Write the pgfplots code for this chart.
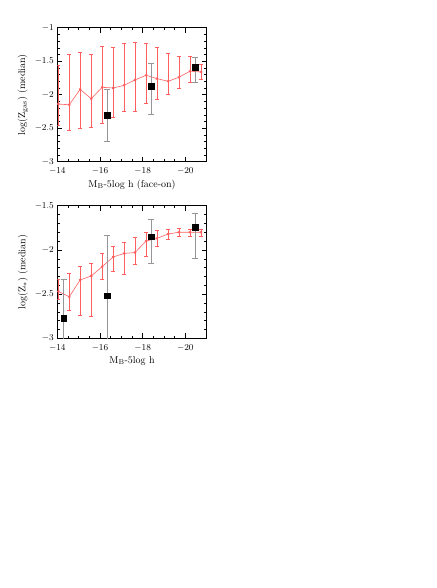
\documentclass[border=0pt]{standalone}
\usepackage{pgfplots}
\pgfplotsset{compat=1.18}
\definecolor{medred}{RGB}{255,95,95}
\definecolor{bargray}{RGB}{150,150,150}
\pgfplotsset{
  panel/.style={
    scale only axis, width=149.4pt,
    x dir=reverse, xmin=-21, xmax=-14,
    xtick={-14,-16,-18,-20}, minor x tick num=3,
    minor y tick num=4,
    tick align=inside, xtick pos=both, ytick pos=both,
    major tick length=5pt, minor tick length=2.5pt,
    every tick/.style={black, line width=0.4pt},
    axis line style={line width=0.5pt},
    tick label style={font=\fontsize{9}{10}\selectfont},
    xticklabel style={yshift=-2.5pt},
    xlabel style={yshift=1.5pt},
    label style={font=\fontsize{10}{12}\selectfont},
    yticklabel style={/pgf/number format/fixed},
  },
  medline/.style={medred, line width=0.6pt, mark=asterisk, mark size=1.3pt,
    error bars/.cd, y dir=both, y explicit, error mark options={medred, mark size=2pt, rotate=90},
    error bar style={medred, line width=0.5pt}},
  obsmark/.style={only marks, mark=square*, mark size=2.8pt, black,
    error bars/.cd, y dir=both, y explicit, error mark options={bargray, mark size=3pt, rotate=90, line width=0.8pt},
    error bar style={bargray, line width=1pt}},
}
\begin{document}
\begin{tikzpicture}
\useasboundingbox (0,0) rectangle (436pt,588pt);
% top panel: gas metallicity
\begin{axis}[panel, at={(57.3pt,426.3pt)}, anchor=south west, height=134pt,
  ymin=-3, ymax=-1, ytick={-3,-2.5,-2,-1.5,-1},
  xlabel={M$_{\rm B}$-5log h (face-on)}, ylabel={log(Z$_{\rm gas}$) (median)}]
\addplot[medline] coordinates {
(-14.05,-2.14) += (0,0.58) -= (0,0.32)
(-14.56,-2.15) += (0,0.75) -= (0,0.38)
(-15.07,-1.92) += (0,0.56) -= (0,0.58)
(-15.59,-2.06) += (0,0.66) -= (0,0.42)
(-16.10,-1.89) += (0,0.61) -= (0,0.54)
(-16.62,-1.90) += (0,0.61) -= (0,0.44)
(-17.13,-1.86) += (0,0.63) -= (0,0.38)
(-17.64,-1.78) += (0,0.57) -= (0,0.46)
(-18.16,-1.71) += (0,0.48) -= (0,0.42)
(-18.67,-1.76) += (0,0.47) -= (0,0.30)
(-19.19,-1.80) += (0,0.42) -= (0,0.20)
(-19.70,-1.74) += (0,0.32) -= (0,0.16)
(-20.21,-1.65) += (0,0.22) -= (0,0.16)
(-20.73,-1.66) += (0,0.11) -= (0,0.11)
};
\addplot[obsmark] coordinates {
(-16.35,-2.31) += (0,0.39) -= (0,0.38)
(-18.41,-1.87) += (0,0.34) -= (0,0.43)
(-20.47,-1.59) += (0,0.14) -= (0,0.22)
};
\end{axis}
% bottom panel: stellar metallicity
\begin{axis}[panel, at={(57.3pt,249.7pt)}, anchor=south west, height=132.6pt,
  ymin=-3, ymax=-1.5, ytick={-3,-2.5,-2,-1.5},
  xlabel={M$_{\rm B}$-5log h}, ylabel={log(Z$_{*}$) (median)}]
\addplot[medline] coordinates {
(-14.05,-2.47) += (0,0.14) -= (0,0.085)
(-14.56,-2.53) += (0,0.27) -= (0,0.15)
(-15.07,-2.34) += (0,0.15) -= (0,0.40)
(-15.59,-2.295) += (0,0.145) -= (0,0.46)
(-16.10,-2.19) += (0,0.15) -= (0,0.14)
(-16.62,-2.08) += (0,0.12) -= (0,0.16)
(-17.13,-2.04) += (0,0.13) -= (0,0.23)
(-17.64,-2.03) += (0,0.17) -= (0,0.13)
(-18.16,-1.90) += (0,0.10) -= (0,0.17)
(-18.67,-1.87) += (0,0.09) -= (0,0.09)
(-19.19,-1.82) += (0,0.05) -= (0,0.06)
(-19.70,-1.80) += (0,0.04) -= (0,0.05)
(-20.21,-1.80) += (0,0.03) -= (0,0.05)
(-20.73,-1.80) += (0,0.03) -= (0,0.04)
};
\addplot[obsmark] coordinates {
(-14.30,-2.77) += (0,0.44) -= (0,0.40)
(-16.35,-2.52) += (0,0.68) -= (0,0.60)
(-18.41,-1.85) += (0,0.19) -= (0,0.30)
(-20.47,-1.74) += (0,0.155) -= (0,0.355)
};
\end{axis}
\end{tikzpicture}
\end{document}
